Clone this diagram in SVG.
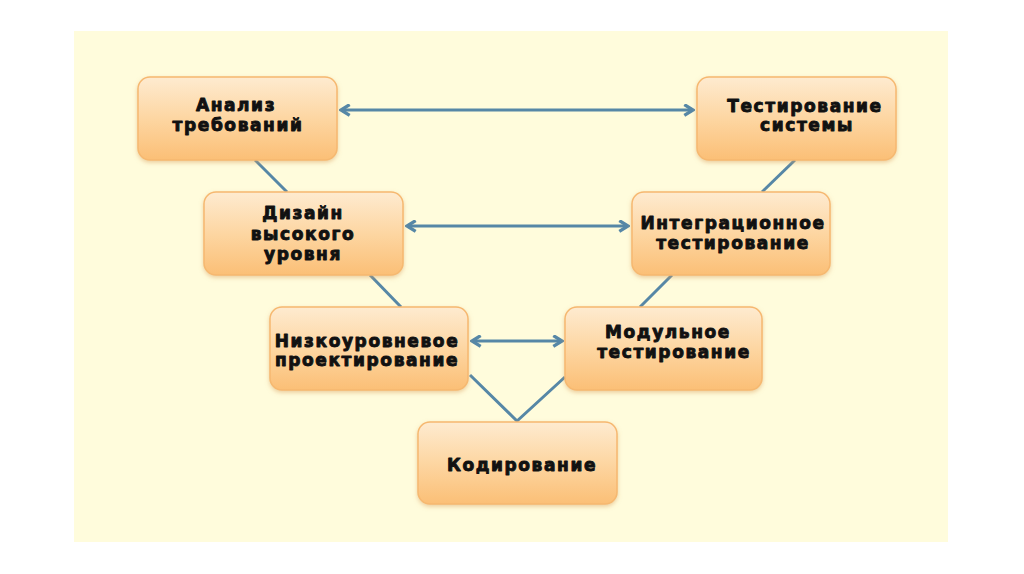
<svg xmlns="http://www.w3.org/2000/svg" width="1024" height="574" viewBox="0 0 1024 574">
<style>
.box{fill:url(#g);stroke:#f6b870;stroke-width:1.5;filter:url(#sh)}
.t{font-family:"DejaVu Sans",sans-serif;font-weight:bold;font-size:17px;letter-spacing:1.6px;fill:#111;text-anchor:middle;stroke:#111;stroke-width:0.9;stroke-linejoin:round}
.c{stroke:#5687a6;stroke-width:3;fill:none}
</style>
<defs>
<linearGradient id="g" x1="0" y1="0" x2="0" y2="1">
<stop offset="0" stop-color="#feebd0"/>
<stop offset="0.5" stop-color="#fdd6a2"/>
<stop offset="1" stop-color="#fbbf76"/>
</linearGradient>
<filter id="sh" x="-10%" y="-10%" width="120%" height="130%">
<feDropShadow dx="0" dy="2" stdDeviation="2" flood-color="#d9a060" flood-opacity="0.5"/>
</filter>
<marker id="ah" viewBox="0 0 12 12" refX="10" refY="6" markerWidth="13" markerHeight="13" markerUnits="userSpaceOnUse" orient="auto-start-reverse">
<path d="M2,1 L10,6 L2,11" fill="none" stroke="#5687a6" stroke-width="3"/>
</marker>
</defs>
<rect width="1024" height="574" fill="#ffffff"/>
<rect x="74" y="31" width="874" height="511" fill="#fffcdc"/>
<g id="connectors">
<line class="c" x1="255" y1="160" x2="287" y2="192"/>
<line class="c" x1="795" y1="160" x2="762" y2="192"/>
<line class="c" x1="370" y1="275" x2="401" y2="307"/>
<line class="c" x1="672" y1="275" x2="640" y2="307"/>
<polyline class="c" points="470,375 517,421 565,377"/>
<line class="c" x1="341" y1="110" x2="693" y2="110" marker-start="url(#ah)" marker-end="url(#ah)"/>
<line class="c" x1="407" y1="226" x2="628" y2="226" marker-start="url(#ah)" marker-end="url(#ah)"/>
<line class="c" x1="472" y1="341" x2="562" y2="341" marker-start="url(#ah)" marker-end="url(#ah)"/>
</g>
<g id="n1">
<rect class="box" x="138" y="77" width="199" height="83" rx="12"/>
<text class="t" x="236" y="111">Анализ</text>
<text class="t" x="238" y="131">требований</text>
</g>
<g id="n2">
<rect class="box" x="697" y="77" width="199" height="83" rx="12"/>
<text class="t" x="805" y="112">Тестирование</text>
<text class="t" x="807" y="131">системы</text>
</g>
<g id="n3">
<rect class="box" x="204" y="192" width="199" height="83" rx="12"/>
<text class="t" x="303" y="219">Дизайн</text>
<text class="t" x="303" y="240">высокого</text>
<text class="t" x="303" y="260">уровня</text>
</g>
<g id="n4">
<rect class="box" x="632" y="192" width="198" height="83" rx="12"/>
<text class="t" x="733" y="229">Интеграционное</text>
<text class="t" x="733" y="249">тестирование</text>
</g>
<g id="n5">
<rect class="box" x="270" y="307" width="198" height="83" rx="12"/>
<text class="t" x="367" y="347">Низкоуровневое</text>
<text class="t" x="367" y="366">проектирование</text>
</g>
<g id="n6">
<rect class="box" x="565" y="307" width="197" height="83" rx="12"/>
<text class="t" x="668" y="338">Модульное</text>
<text class="t" x="674" y="358">тестирование</text>
</g>
<g id="n7">
<rect class="box" x="418" y="422" width="199" height="82" rx="12"/>
<text class="t" x="522" y="471">Кодирование</text>
</g>
</svg>
